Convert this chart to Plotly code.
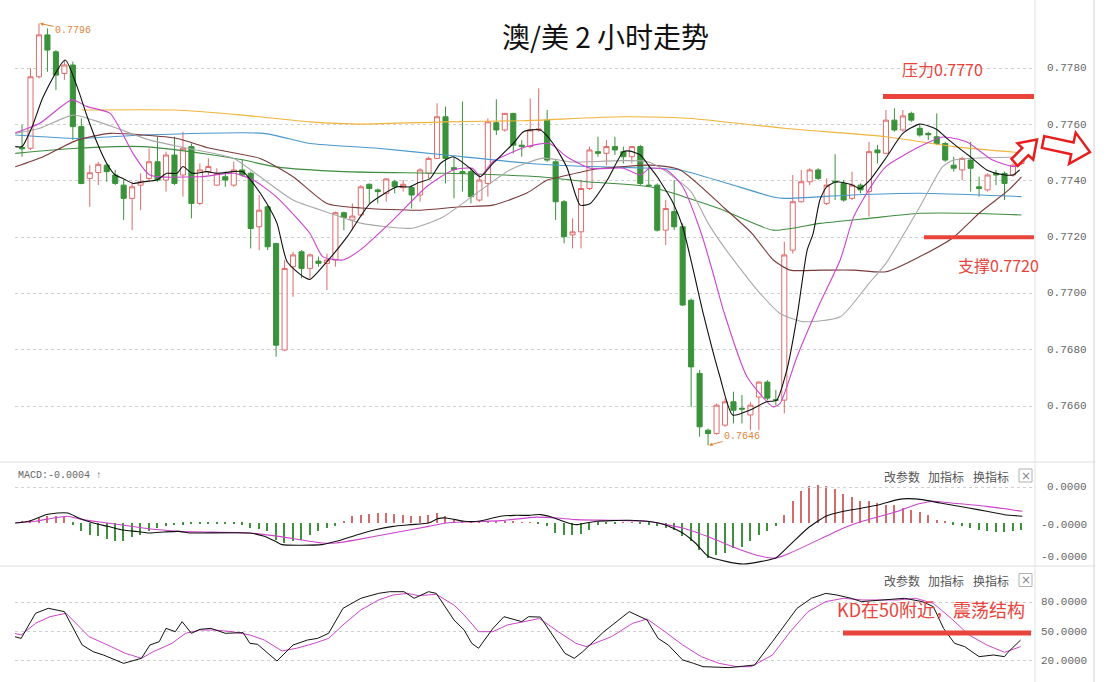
import plotly.graph_objects as go

W, H = 1109, 682
def px(x):
    return x / W
def py(y):
    return 1 - y / H

# ---------------- candle data (2-hour AUD/USD) ----------------
idx = list(range(119))
opens = [0.77519, 0.77516, 0.77770, 0.77919, 0.77859, 0.77782, 0.77812, 0.77593, 0.77409, 0.77430,
         0.77456, 0.77421, 0.77385, 0.77338, 0.77385, 0.77409, 0.77468, 0.77403, 0.77492, 0.77421,
         0.77522, 0.77320, 0.77433, 0.77385, 0.77415, 0.77385, 0.77439, 0.77427, 0.77237, 0.77308,
         0.77178, 0.76799, 0.77095, 0.77148, 0.77089, 0.77115, 0.77107, 0.77119, 0.77287, 0.77261,
         0.77279, 0.77388, 0.77368, 0.77356, 0.77397, 0.77376, 0.77376, 0.77350, 0.77427, 0.77480,
         0.77628, 0.77447, 0.77433, 0.77433, 0.77332, 0.77391, 0.77607, 0.77581, 0.77640, 0.77527,
         0.77522, 0.77581, 0.77616, 0.77468, 0.77326, 0.77208, 0.77219, 0.77373, 0.77504, 0.77498,
         0.77522, 0.77504, 0.77486, 0.77522, 0.77385, 0.77385, 0.77225, 0.77291, 0.77237, 0.76976,
         0.76716, 0.76514, 0.76502, 0.76532, 0.76615, 0.76592, 0.76568, 0.76632, 0.76685, 0.76622,
         0.76621, 0.77154, 0.77326, 0.77397, 0.77439, 0.77320, 0.77399, 0.77391, 0.77338, 0.77385,
         0.77362, 0.77510, 0.77498, 0.77616, 0.77581, 0.77640, 0.77587, 0.77569, 0.77557, 0.77533,
         0.77456, 0.77439, 0.77474, 0.77379, 0.77368, 0.77427, 0.77427, 0.77421, 0.77462]
highs = [0.77599, 0.77800, 0.77960, 0.77942, 0.77865, 0.77830, 0.77824, 0.77622, 0.77456, 0.77468,
         0.77462, 0.77439, 0.77403, 0.77397, 0.77427, 0.77516, 0.77557, 0.77504, 0.77557, 0.77575,
         0.77533, 0.77462, 0.77480, 0.77445, 0.77433, 0.77468, 0.77474, 0.77433, 0.77350, 0.77314,
         0.77178, 0.77119, 0.77148, 0.77154, 0.77142, 0.77131, 0.77142, 0.77291, 0.77291, 0.77320,
         0.77385, 0.77391, 0.77373, 0.77409, 0.77403, 0.77403, 0.77385, 0.77445, 0.77486, 0.77676,
         0.77664, 0.77486, 0.77682, 0.77445, 0.77421, 0.77622, 0.77690, 0.77642, 0.77642, 0.77545,
         0.77693, 0.77729, 0.77652, 0.77474, 0.77332, 0.77267, 0.77403, 0.77522, 0.77557, 0.77545,
         0.77557, 0.77522, 0.77524, 0.77528, 0.77456, 0.77391, 0.77332, 0.77403, 0.77249, 0.76982,
         0.76728, 0.76520, 0.76609, 0.76627, 0.76651, 0.76639, 0.76615, 0.76688, 0.76692, 0.76657,
         0.77184, 0.77421, 0.77439, 0.77445, 0.77445, 0.77409, 0.77495, 0.77403, 0.77433, 0.77391,
         0.77539, 0.77528, 0.77652, 0.77658, 0.77652, 0.77646, 0.77599, 0.77575, 0.77640, 0.77539,
         0.77486, 0.77486, 0.77539, 0.77415, 0.77427, 0.77439, 0.77433, 0.77462, 0.77504]
lows = [0.77486, 0.77510, 0.77764, 0.77788, 0.77723, 0.77759, 0.77545, 0.77388, 0.77308, 0.77385,
        0.77397, 0.77385, 0.77261, 0.77225, 0.77296, 0.77397, 0.77397, 0.77362, 0.77385, 0.77344,
        0.77267, 0.77314, 0.77421, 0.77383, 0.77379, 0.77379, 0.77415, 0.77160, 0.77154, 0.77154,
        0.76775, 0.76795, 0.76988, 0.77054, 0.77054, 0.77095, 0.77012, 0.77095, 0.77225, 0.77225,
        0.77273, 0.77320, 0.77320, 0.77326, 0.77356, 0.77362, 0.77302, 0.77326, 0.77409, 0.77478,
        0.77391, 0.77338, 0.77362, 0.77320, 0.77326, 0.77344, 0.77563, 0.77575, 0.77498, 0.77486,
        0.77516, 0.77575, 0.77468, 0.77261, 0.77178, 0.77160, 0.77160, 0.77368, 0.77486, 0.77456,
        0.77492, 0.77462, 0.77462, 0.77385, 0.77379, 0.77220, 0.77172, 0.77225, 0.76955, 0.76597,
        0.76491, 0.76460, 0.76498, 0.76526, 0.76538, 0.76538, 0.76514, 0.76514, 0.76620, 0.76603,
        0.76574, 0.77142, 0.77323, 0.77385, 0.77403, 0.77314, 0.77332, 0.77326, 0.77332, 0.77356,
        0.77273, 0.77462, 0.77495, 0.77575, 0.77575, 0.77610, 0.77557, 0.77545, 0.77527, 0.77468,
        0.77433, 0.77403, 0.77362, 0.77344, 0.77362, 0.77385, 0.77332, 0.77415, 0.77456]
closes = [0.77514, 0.77770, 0.77919, 0.77865, 0.77776, 0.77812, 0.77593, 0.77391, 0.77429, 0.77459,
          0.77433, 0.77391, 0.77338, 0.77379, 0.77397, 0.77468, 0.77403, 0.77492, 0.77391, 0.77516,
          0.77320, 0.77439, 0.77451, 0.77427, 0.77403, 0.77439, 0.77421, 0.77231, 0.77296, 0.77166,
          0.76816, 0.77089, 0.77137, 0.77089, 0.77137, 0.77107, 0.77119, 0.77287, 0.77270, 0.77275,
          0.77379, 0.77373, 0.77362, 0.77407, 0.77379, 0.77388, 0.77350, 0.77439, 0.77480, 0.77628,
          0.77480, 0.77441, 0.77427, 0.77344, 0.77403, 0.77610, 0.77581, 0.77640, 0.77527, 0.77522,
          0.77581, 0.77584, 0.77474, 0.77326, 0.77202, 0.77219, 0.77373, 0.77510, 0.77498, 0.77522,
          0.77510, 0.77486, 0.77522, 0.77391, 0.77383, 0.77225, 0.77302, 0.77237, 0.76959, 0.76739,
          0.76526, 0.76502, 0.76603, 0.76615, 0.76585, 0.76589, 0.76603, 0.76685, 0.76628, 0.76621,
          0.77137, 0.77326, 0.77397, 0.77439, 0.77409, 0.77385, 0.77396, 0.77332, 0.77385, 0.77368,
          0.77504, 0.77500, 0.77616, 0.77581, 0.77631, 0.77616, 0.77563, 0.77564, 0.77533, 0.77474,
          0.77445, 0.77480, 0.77445, 0.77373, 0.77421, 0.77421, 0.77391, 0.77456, 0.77486]

# ---------------- moving averages (read at sample positions) ----------------
ma5_x = [-0.8, 0, 1.2, 2.5, 5.1, 6.5, 7.7, 8.9, 10, 11, 11.9, 13.1, 14.3, 15.9, 17.1, 18.3, 19, 20.1,
         21.8, 23, 24.9, 26.1, 27.3, 28.9, 30.1, 31.3, 33.2, 34, 36, 38.4, 41.1, 44.3, 45.8, 46.6, 48.2,
         49.4, 50.9, 52.9, 54.1, 55.6, 58, 59.2, 61.2, 62.7, 64.3, 65.9, 67.1, 69.1, 71, 71.8, 73, 74.1,
         75, 76.9, 78, 79.2, 80.5, 82.4, 83.9, 85.9, 87.9, 89.1, 90.3, 91.5, 92.7, 93.4, 94.2, 95, 96.2,
         97.4, 98.1, 98.9, 100.1, 102.1, 104, 106, 108, 109.2, 110.4, 112, 113.9, 115.7, 117, 117.8]
ma5_y = [0.77522, 0.77522, 0.77593, 0.77699, 0.77830, 0.77735, 0.77628, 0.77533, 0.77462, 0.77421,
         0.77409, 0.77391, 0.77397, 0.77403, 0.77427, 0.77427, 0.77451, 0.77427, 0.77433, 0.77427,
         0.77433, 0.77433, 0.77391, 0.77320, 0.77250, 0.77113, 0.77060, 0.77050, 0.77113, 0.77202,
         0.77320, 0.77379, 0.77379, 0.77391, 0.77409, 0.77462, 0.77486, 0.77445, 0.77415, 0.77462,
         0.77533, 0.77575, 0.77581, 0.77533, 0.77450, 0.77314, 0.77320, 0.77403, 0.77504, 0.77506,
         0.77492, 0.77450, 0.77415, 0.77320, 0.77237, 0.77090, 0.76920, 0.76704, 0.76568, 0.76585,
         0.76615, 0.76621, 0.76728, 0.76917, 0.77154, 0.77213, 0.77332, 0.77379, 0.77397, 0.77391,
         0.77385, 0.77373, 0.77403, 0.77486, 0.77569, 0.77602, 0.77583, 0.77551, 0.77522, 0.77485,
         0.77439, 0.77423, 0.77421, 0.77439]

ma10_x = [-0.8, 2.1, 5.9, 7.7, 10.4, 13.1, 15.1, 21, 25, 27.3, 30, 34, 35.5, 37.9, 39.9, 43.8, 47.8,
          50.9, 53.2, 54.1, 55.6, 59.6, 62.3, 64.3, 67.1, 71, 73, 74.1, 76.1, 78, 80.2, 81.6, 82.8,
          85.6, 88.7, 89.5, 91.5, 94.2, 96.6, 98.2, 100.2, 102, 106, 108.7, 111.5, 114.6, 117, 117.8]
ma10_y = [0.77571, 0.77605, 0.77688, 0.77664, 0.77640, 0.77498, 0.77421, 0.77415, 0.77427, 0.77403,
          0.77344, 0.77213, 0.77131, 0.77119, 0.77154, 0.77261, 0.77380, 0.77439, 0.77445, 0.77415,
          0.77468, 0.77522, 0.77533, 0.77486, 0.77445, 0.77445, 0.77421, 0.77445, 0.77439, 0.77380,
          0.77213, 0.77071, 0.76941, 0.76704, 0.76597, 0.76609, 0.76775, 0.76965, 0.77119, 0.77273,
          0.77379, 0.77451, 0.77522, 0.77556, 0.77539, 0.77474, 0.77451, 0.77456]

ma20_x = [-0.8, 2.1, 6, 8.4, 11.2, 15.1, 19.5, 25, 28.1, 32, 36, 40, 46, 49.7, 53.7, 57.6, 61.5, 65,
          74, 78.9, 81, 83, 86.8, 89.5, 92.2, 96.6, 100, 102, 106, 108.7, 110, 112, 117.8]
ma20_y = [0.77569, 0.77587, 0.77634, 0.77616, 0.77587, 0.77545, 0.77516, 0.77480, 0.77415, 0.77332,
          0.77289, 0.77250, 0.77232, 0.77272, 0.77357, 0.77439, 0.77481, 0.77467, 0.77467, 0.77365,
          0.77250, 0.77160, 0.77012, 0.76929, 0.76900, 0.76917, 0.77036, 0.77107, 0.77308, 0.77451,
          0.77474, 0.77480, 0.77485]

ma30_x = [-0.8, 2.5, 6.5, 10.4, 14.3, 18.3, 22.2, 28.1, 32, 36, 40, 47, 51.7, 55.6, 59.6, 62, 63.5,
          67.1, 71, 74.1, 77.7, 82.8, 86.2, 88.7, 90.7, 94.2, 98.2, 102, 106, 110, 113, 116.5, 118]
ma30_y = [0.77450, 0.77486, 0.77545, 0.77569, 0.77563, 0.77551, 0.77516, 0.77480, 0.77415, 0.77320,
          0.77304, 0.77296, 0.77308, 0.77314, 0.77357, 0.77403, 0.77414, 0.77439, 0.77451, 0.77456,
          0.77439, 0.77307, 0.77213, 0.77119, 0.77083, 0.77083, 0.77083, 0.77077, 0.77131, 0.77200,
          0.77285, 0.77368, 0.77414]

ma60_x = [-0.8, 6.5, 14.3, 22, 26, 30, 38, 50, 61.2, 66.7, 74.1, 82.3, 88.7, 94.2, 100, 106, 112, 118]
ma60_y = [0.77498, 0.77516, 0.77522, 0.77495, 0.77475, 0.77450, 0.77433, 0.77427, 0.77415, 0.77397,
          0.77379, 0.77302, 0.77225, 0.77249, 0.77267, 0.77285, 0.77285, 0.77279]

ma120_x = [-0.8, 6.5, 14.3, 28.5, 34, 42, 50, 60, 67, 74.5, 77.7, 83.2, 88.7, 90, 98, 106, 118]
ma120_y = [0.77563, 0.77551, 0.77563, 0.77569, 0.77533, 0.77516, 0.77492, 0.77462, 0.77451, 0.77445,
           0.77439, 0.77392, 0.77343, 0.77338, 0.77350, 0.77356, 0.77344]

ma250_x = [7, 18, 26, 34, 40, 50, 59, 71, 79, 90, 102, 110, 118]
ma250_y = [0.77652, 0.77652, 0.77634, 0.77610, 0.77602, 0.77610, 0.77614, 0.77628, 0.77622, 0.77587,
           0.77557, 0.77522, 0.77500]

# ---------------- MACD (units of 1e-5) ----------------
macd_hist = [0.2, 0.4, 0.6, 0.8, 0.8, 0.67,
             -0.2, -1.0, -1.4, -1.6, -1.87, -2.1, -2.1, -1.7, -1.4, -1.0, -0.6, -0.4, -0.28, -0.2,
             -0.15, -0.1, -0.05, -0.05, -0.05, -0.1, -0.2,
             -0.6, -0.7, -1.0, -2.0, -2.4, -2.2, -2.0, -1.4, -1.0, -0.6, -0.3,
             0.2, 0.8, 1.0, 1.07, 1.2, 1.2, 1.07, 1.0, 0.8, 0.8, 1.0, 1.2, 0.8, 0.4, 0.2,
             0.1, 0.1, 0.2, 0.2, 0.2, 0.2, 0.1, 0.05, -0.05, -0.4,
             -1.2, -1.47, -1.4, -1.3, -0.8, -0.2, -0.1, -0.05, 0.05, 0.05, -0.1,
             -0.2, -0.4, -0.6, -0.8, -1.6, -2.2, -3.2, -4.2, -3.8, -3.6, -3.0, -2.8, -2.2, -1.4, -1.0, -0.4,
             1.0, 2.6, 3.8, 4.4, 4.5, 4.4, 4.0, 3.45, 3.05, 2.66, 2.6, 2.4, 2.2, 2.2, 1.8, 1.6, 1.3, 1.0,
             0.4, 0.2,
             -0.2, -0.4, -0.6, -0.8, -1.0, -1.07, -1.07, -1.0, -0.8]
dif_x = [-0.8, 0.8, 2.9, 4.2, 5.4, 6.7, 8.4, 10.1, 11.7, 13.4, 15.1, 16.8, 18.5, 19.8, 21.4, 26.9, 28.6,
         29.9, 30.7, 35.4, 37.1, 39.6, 41.7, 43.8, 45.9, 48, 49.1, 50.1, 52.2, 53.9, 56.5, 58.1, 59.8,
         61.2, 62.4, 63.5, 64.5, 65.4, 66.6, 67.9, 69.6, 71.7, 73.8, 75.9, 78, 79.5, 81, 83.1, 85.2,
         87.3, 89, 90.7, 92.8, 94.9, 97, 99.2, 101.2, 103.4, 104.6, 106.3, 108.4, 111.8, 113.9, 116, 118.1]
dif_y = [0, 0.2, 1.0, 1.19, 1.19, 0.6, 0, -0.4, -0.8, -1.0, -1.19, -1.07, -1.0, -1.19, -1.19, -1.19,
         -1.59, -2.18, -2.58, -2.58, -2.18, -1.39, -0.8, -0.4, -0.2, 0, 0.52, 0.6, 0.2, 0.2, 0.8, 0.91,
         0.91, 1.0, 0.75, 0.35, 0, -0.2, 0.0, 0.2, 0.28, 0.32, 0.2, -0.2, -1.19, -2.38, -3.97, -4.57,
         -4.88, -4.57, -4.17, -2.58, -0.6, 0.8, 1.39, 1.79, 2.18, 2.78, 2.9, 2.78, 2.38, 1.79, 1.39,
         0.99, 0.8]
dea_x = [-0.8, 1.6, 3.7, 5.4, 7.1, 10.1, 14.3, 18.5, 26.9, 30.3, 35.4, 37.1, 39.6, 43.8, 48, 50.1,
         52.2, 56.5, 60.7, 63.2, 65.4, 69.6, 73.8, 78, 81.4, 84.8, 87.3, 89, 90.7, 94.9, 97, 99.2,
         103.4, 105.5, 107.6, 109.7, 113.9, 118.1]
dea_y = [0, 0.2, 0.6, 0.8, 0.4, 0, -0.6, -1.0, -1.19, -1.59, -2.38, -2.38, -1.98, -1.19, -0.4, 0,
         0.12, 0.28, 0.7, 0.6, 0.4, 0.32, 0.2, -0.6, -1.79, -3.18, -3.97, -4.17, -3.57, -1.59, -0.6,
         0.2, 1.39, 2.18, 2.58, 2.38, 1.98, 1.39]

# ---------------- KD ----------------
k_x = [-0.9, -0.1, 0.8, 1.6, 3.1, 5, 7.1, 8.4, 9.6, 12, 14.1, 15.1, 16.2, 17, 18.1, 18.9, 20, 21,
       22.3, 24, 26.1, 26.9, 27.8, 30.1, 32, 33.7, 34.9, 36.2, 37.9, 40, 42.1, 43.4, 45.1, 46.3, 48,
       48.9, 51, 52.2, 53.1, 53.9, 55.6, 56.9, 59, 59.8, 61.2, 62.4, 64.1, 65.2, 66.2, 68.7, 71.7,
       73.8, 75.1, 76.3, 78, 79.3, 80.4, 83.5, 86.5, 88.6, 90.3, 91.5, 93.2, 94.9, 96.2, 97.9, 99.1,
       101.2, 103.4, 104.2, 106.3, 107.6, 108.8, 110.1, 111.3, 113, 114.7, 116, 116.4, 117.9]
k_y = [44.9, 43.1, 56.9, 68.9, 74, 70.6, 36.3, 29.4, 26, 17.4, 22.6, 36.3, 39.7, 53.4, 50, 60.3,
       48.3, 52.4, 53.4, 48.3, 49, 38, 37, 19.8, 36.3, 41.4, 43.1, 48.3, 74, 84.3, 89.4, 91.1, 91.1,
       84.3, 91.1, 89.4, 62, 51.7, 38, 32.9, 53.4, 65.4, 60.3, 65.4, 65, 49, 27.7, 22.6, 29.4, 50,
       70.6, 62, 43.1, 36.3, 20.9, 17.4, 14, 13, 15.7, 39.7, 60.3, 74, 84.3, 89.4, 87.7, 84.3, 80.9,
       82.6, 84.3, 84.3, 80.9, 75.7, 53.4, 38, 34.6, 24.3, 26, 24.3, 28.7, 41.4]
d_x = [-0.9, -0.1, 1.6, 3.3, 5.2, 7.9, 10.1, 12.2, 14.1, 15.5, 17.7, 19.3, 21, 22.7, 24.8, 26.9, 28.6,
       30.7, 32.4, 34.5, 36.2, 37.9, 40, 42.1, 43.8, 45.5, 46.8, 48.9, 51, 52.2, 53.9, 55.6, 57.3, 59,
       61.1, 63.3, 65.4, 66.6, 69.6, 72.1, 73.8, 75.9, 78, 80.2, 82.3, 84.4, 86.1, 88.6, 90.7, 92.8,
       94.9, 97, 99.2, 103.4, 105.5, 107.6, 109.7, 111.8, 113.9, 116, 117.9]
d_y = [48.3, 46.6, 58.6, 65.4, 68.9, 44.9, 36.3, 27.7, 22.6, 29.4, 38, 48.3, 51.7, 51.7, 50, 46.6,
       41.4, 30.1, 32.9, 38, 43.1, 56.9, 72.3, 82.6, 87.7, 89.4, 87, 88.4, 77.4, 67.1, 50, 50, 56.9,
       59.6, 63.5, 50, 38, 34.6, 44.9, 58.6, 63, 50, 36.3, 24.3, 17.4, 14, 14, 26, 50, 70.6, 80.9,
       84.3, 82.6, 82.6, 84.3, 79.1, 63.7, 46.6, 36.3, 28.7, 34.6]

price_ticks = [0.7660, 0.7680, 0.7700, 0.7720, 0.7740, 0.7760, 0.7780]
macd_ticks = [4.23, -0.24, -4.05]
macd_tick_text = ["0.0000", "-0.0000", "-0.0000"]
kd_ticks = [80, 50, 20]
resistance = 0.7770
support = 0.7720
high_mark = (2, 0.7796)
low_mark = (81, 0.7646)

# ---------------- figure ----------------
fig = go.Figure()

fig.add_trace(go.Candlestick(
    x=idx, open=opens, high=highs, low=lows, close=closes,
    increasing=dict(line=dict(color="#e06a6a", width=1), fillcolor="#ffffff"),
    decreasing=dict(line=dict(color="#3a923a", width=1), fillcolor="#3a923a"),
    whiskerwidth=0, showlegend=False, hoverinfo="skip", xaxis="x", yaxis="y"))

ma_specs = [
    (ma250_x, ma250_y, "#f0b43c"),
    (ma120_x, ma120_y, "#4a98cc"),
    (ma60_x, ma60_y, "#3f8c3f"),
    (ma30_x, ma30_y, "#7a3a3a"),
    (ma20_x, ma20_y, "#a8a8a8"),
    (ma10_x, ma10_y, "#cc44cc"),
    (ma5_x, ma5_y, "#111111"),
]
for xs, ys, col in ma_specs:
    fig.add_trace(go.Scatter(x=xs, y=ys, mode="lines",
                             line=dict(color=col, width=1.1, shape="spline", smoothing=0.6),
                             showlegend=False, hoverinfo="skip", xaxis="x", yaxis="y"))

fig.add_trace(go.Bar(x=idx, y=macd_hist, width=0.17,
                     marker=dict(color=["#d46a6a" if v >= 0 else "#3f8f3f" for v in macd_hist],
                                 line=dict(width=0)),
                     showlegend=False, hoverinfo="skip", xaxis="x", yaxis="y2"))
fig.add_trace(go.Scatter(x=dea_x, y=dea_y, mode="lines",
                         line=dict(color="#cc44cc", width=1.1, shape="spline", smoothing=0.5),
                         showlegend=False, hoverinfo="skip", xaxis="x", yaxis="y2"))
fig.add_trace(go.Scatter(x=dif_x, y=dif_y, mode="lines",
                         line=dict(color="#111111", width=1.1, shape="spline", smoothing=0.5),
                         showlegend=False, hoverinfo="skip", xaxis="x", yaxis="y2"))

fig.add_trace(go.Scatter(x=d_x, y=d_y, mode="lines", line=dict(color="#cc44cc", width=1),
                         showlegend=False, hoverinfo="skip", xaxis="x", yaxis="y3"))
fig.add_trace(go.Scatter(x=k_x, y=k_y, mode="lines", line=dict(color="#111111", width=1),
                         showlegend=False, hoverinfo="skip", xaxis="x", yaxis="y3"))

grid = dict(showgrid=True, gridcolor="#cfcfcf", griddash="dot", gridwidth=1)

shapes = []
annotations = []

# separators and borders
shapes.append(dict(type="line", xref="paper", yref="paper", x0=0, x1=px(1095), y0=py(462), y1=py(462),
                   line=dict(color="#dedede", width=1)))
shapes.append(dict(type="line", xref="paper", yref="paper", x0=0, x1=px(1095), y0=py(566), y1=py(566),
                   line=dict(color="#dedede", width=1)))
shapes.append(dict(type="line", xref="paper", yref="paper", x0=px(1035), x1=px(1035), y0=0, y1=1,
                   line=dict(color="#e2e2e2", width=1)))
shapes.append(dict(type="line", xref="paper", yref="paper", x0=px(1094), x1=px(1094), y0=0, y1=1,
                   line=dict(color="#d2d2d2", width=1)))
shapes.append(dict(type="line", xref="paper", yref="y2", x0=px(15), x1=px(1035),
                   y0=macd_ticks[0], y1=macd_ticks[0], line=dict(color="#cfcfcf", width=1, dash="dot")))

# resistance / support / KD marker lines
red = "#e8443c"
shapes.append(dict(type="line", xref="paper", yref="y", x0=px(883), x1=px(1034),
                   y0=resistance, y1=resistance, line=dict(color=red, width=5)))
shapes.append(dict(type="line", xref="paper", yref="y", x0=px(924), x1=px(1034),
                   y0=support, y1=support, line=dict(color=red, width=4)))
shapes.append(dict(type="line", xref="paper", yref="paper", x0=px(843), x1=px(1031),
                   y0=py(633), y1=py(633), line=dict(color=red, width=5)))

# hollow red arrows
def path(points):
    s = "M " + " L ".join(f"{px(x):.5f},{py(y):.5f}" for x, y in points) + " Z"
    return s

arrow1 = [(1017.6, 166.0), (1028.4, 155.2), (1033.2, 159.5), (1037.0, 139.5), (1017.5, 143.3),
          (1022.3, 148.1), (1011.5, 158.9)]
arrow2 = [(1044.3, 136.1), (1073.6, 142.4), (1075.7, 132.6), (1090.0, 152.0), (1069.1, 163.9),
          (1071.2, 154.2), (1041.9, 147.9)]
for a in (arrow1, arrow2):
    shapes.append(dict(type="path", xref="paper", yref="paper", path=path(a),
                       fillcolor="#ffffff", line=dict(color="#e81e1e", width=2.5)))

# close boxes
for yc in (475.5, 580):
    shapes.append(dict(type="rect", xref="paper", yref="paper", x0=px(1019), x1=px(1032),
                       y0=py(yc - 6.5), y1=py(yc + 6.5), line=dict(color="#b0b0b0", width=1),
                       fillcolor="rgba(0,0,0,0)"))

def label(x, y, text, font, xanchor="center"):
    return dict(xref="paper", yref="paper", x=px(x), y=py(y), text=text, showarrow=False,
                xanchor=xanchor, yanchor="middle", font=font)

# title and notes
annotations.append(label(605, 36, "澳/美 2 小时走势",
                         dict(family="Noto Sans CJK SC", size=28, color="#111111")))
annotations.append(label(942, 69, "压力0.7770", dict(family="Noto Sans CJK SC", size=16, color=red)))
annotations.append(label(998, 265, "支撑0.7720", dict(family="Noto Sans CJK SC", size=16, color=red)))
annotations.append(label(931, 609, "KD在50附近，震荡结构",
                         dict(family="Noto Sans CJK SC", size=18, color=red)))

orange = "#e0843a"
annotations.append(dict(x=high_mark[0], y=high_mark[1], xref="x", yref="y", text="0.7796",
                        showarrow=True, arrowhead=2, arrowsize=0.7, arrowwidth=1, arrowcolor=orange,
                        ax=34, ay=7, standoff=1, xanchor="center", yanchor="middle",
                        font=dict(family="Liberation Mono", size=10, color=orange)))
annotations.append(dict(x=low_mark[0], y=low_mark[1], xref="x", yref="y", text="0.7646",
                        showarrow=True, arrowhead=2, arrowsize=0.7, arrowwidth=1, arrowcolor=orange,
                        ax=34, ay=-9, standoff=1, xanchor="center", yanchor="middle",
                        font=dict(family="Liberation Mono", size=10, color=orange)))

annotations.append(label(16, 475, "MACD:-0.0004 ↑",
                         dict(family="Liberation Mono", size=10, color="#666666"), xanchor="left"))
for yc in (476, 580):
    for xc, t in ((902, "改参数"), (946, "加指标"), (991, "换指标")):
        annotations.append(label(xc, yc, t, dict(family="Noto Sans CJK SC", size=12, color="#555555")))
    annotations.append(label(1025.5, yc, "×", dict(family="DejaVu Sans", size=12, color="#888888")))

lab_font = dict(family="Liberation Mono", size=11, color="#666666")
for v in price_ticks:
    annotations.append(dict(xref="paper", yref="y", x=px(1089), y=v, text=f"{v:.4f}",
                            showarrow=False, xanchor="right", yanchor="middle", font=lab_font))
for v, t in zip(macd_ticks, macd_tick_text):
    annotations.append(dict(xref="paper", yref="y2", x=px(1089), y=v, text=t,
                            showarrow=False, xanchor="right", yanchor="middle", font=lab_font))
for v in kd_ticks:
    annotations.append(dict(xref="paper", yref="y3", x=px(1089), y=v, text=f"{v:.4f}",
                            showarrow=False, xanchor="right", yanchor="middle", font=lab_font))

fig.update_layout(
    width=W, height=H, margin=dict(l=0, r=0, t=0, b=0),
    paper_bgcolor="#ffffff", plot_bgcolor="#ffffff",
    boxgap=0.4, boxgroupgap=0, bargap=0,
    xaxis=dict(domain=[px(15), px(1035)], range=[-0.83, 119.6], visible=False,
               rangeslider=dict(visible=False), anchor="y3"),
    yaxis=dict(domain=[py(462), 1], range=[0.76401, 0.78043], side="right", anchor="x",
               tickvals=price_ticks, showticklabels=False, zeroline=False, ticks="", **grid),
    yaxis2=dict(domain=[py(567), py(462)], range=[-5.24, 7.26], side="right", anchor="x",
                showticklabels=False, showgrid=False, zeroline=False, ticks=""),
    yaxis3=dict(domain=[0, py(567)], range=[-1.77, 116.5], side="right", anchor="x",
                tickvals=kd_ticks, showticklabels=False, zeroline=False, ticks="", **grid),
    shapes=shapes, annotations=annotations, showlegend=False, hovermode=False,
)

fig.write_html("out.html", config={"displayModeBar": False},
               post_script="document.body.style.margin='0';")
